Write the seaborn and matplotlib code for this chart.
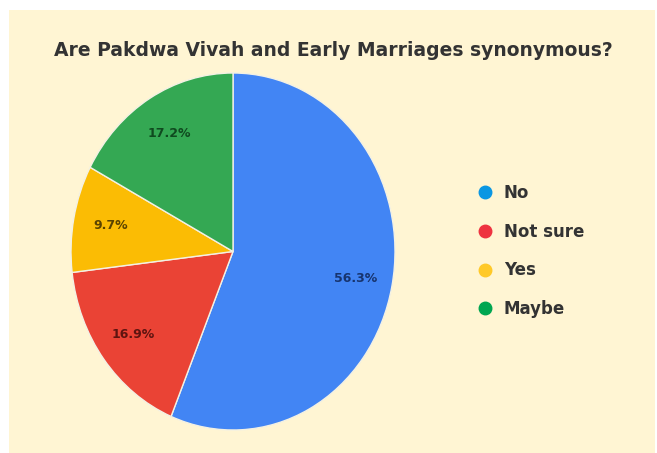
import matplotlib
matplotlib.use("Agg")
import matplotlib.pyplot as plt
from matplotlib.lines import Line2D
from matplotlib.patches import Rectangle
import seaborn as sns

# data
answers = ["No", "Not sure", "Yes", "Maybe"]
shares = [56.3, 16.9, 9.7, 17.2]
slice_colors = ["#4285F4", "#EA4335", "#FBBC04", "#34A853"]
label_colors = ["#17346e", "#5e1410", "#5a4300", "#0f4a1f"]
legend_colors = ["#0B97E3", "#EE3340", "#FFC928", "#00A651"]
title = "Are Pakdwa Vivah and Early Marriages synonymous?"

sns.set_theme(style="white")
plt.rcParams["font.family"] = ["DejaVu Sans"]

W, H = 657, 453
fig = plt.figure(figsize=(W / 100, H / 100), dpi=100)
fig.patch.set_facecolor("white")

# cream panel behind everything
fig.patches.append(Rectangle((9 / W, 0), 646 / W, 443 / H, transform=fig.transFigure,
                             facecolor="#FFF5D3", edgecolor="none", zorder=-10))

total = sum(shares)
ax = fig.add_axes([71 / W, 23 / H, 324 / W, 357 / H])
ax.set_facecolor("none")
wedges, texts, autotexts = ax.pie(
    shares, colors=slice_colors, startangle=90, counterclock=False,
    autopct=lambda p: f"{p * total / 100:.1f}%", pctdistance=0.77,
    wedgeprops=dict(edgecolor="#F3F1E4", linewidth=1.0),
    textprops=dict(fontsize=9, fontweight="bold"))
for t, c in zip(autotexts, label_colors):
    t.set_color(c)
ax.set_aspect("auto")
ax.set_xlim(-1, 1)
ax.set_ylim(-1, 1)
ax.axis("off")

fig.text(333 / W, 1 - 50 / H, title, ha="center", va="center",
         fontsize=13.5, fontweight="bold", color="#333333")

handles = [Line2D([], [], marker="o", linestyle="none", markersize=9,
                  markerfacecolor=c, markeredgecolor=c) for c in legend_colors]
fig.legend(handles, answers, loc="center left", bbox_to_anchor=(462 / W, 1 - 251 / H),
           frameon=False, labelspacing=1.25, handletextpad=0.6,
           handlelength=1.0, prop=dict(size=12, weight="bold"), labelcolor="#333333")

fig.savefig("out.png", dpi=100)
